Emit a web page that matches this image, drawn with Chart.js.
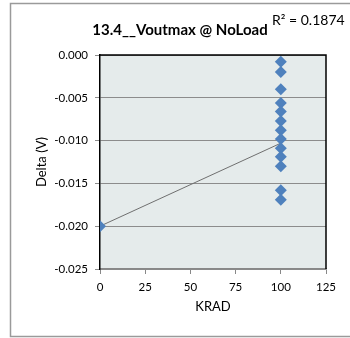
<!DOCTYPE html>
<html>
<head>
<meta charset="utf-8">
<script src="https://cdn.jsdelivr.net/npm/chart.js@4"></script>
<style>
  html, body { margin: 0; padding: 0; background: #fff; overflow: hidden; }
  #wrap { width: 350px; height: 338px; }
</style>
</head>
<body>
<div id="wrap"><canvas id="chart" width="350" height="338"></canvas></div>
<script>
// data
var chartTitle = '13.4__Voutmax @ NoLoad';
var rSquaredText = 'R\u00B2 = 0.1874';
var xTitle = 'KRAD';
var yTitle = 'Delta (V)';

var krad = [0, 100, 100, 100, 100, 100, 100, 100, 100, 100, 100, 100, 100, 100];
var delta = [-0.0200, -0.0008, -0.0020, -0.0040, -0.0056, -0.0066, -0.0077, -0.0088,
             -0.0098, -0.0109, -0.0119, -0.0130, -0.0158, -0.0169];

// linear trendline end points as drawn
var trendX = [0, 100];
var trendY = [-0.0200, -0.0103];

var xTicks = [0, 25, 50, 75, 100, 125];
var yTicks = [0, -0.005, -0.010, -0.015, -0.020, -0.025];

var fontFam = 'Lato, "Open Sans", sans-serif';

var points = krad.map(function(x, i) { return { x: x, y: delta[i] }; });
var trend = trendX.map(function(x, i) { return { x: x, y: trendY[i] }; });

var framePlugin = {
    id: 'frame',
    beforeDraw: function(chart) {
        var ctx = chart.ctx, a = chart.chartArea;
        ctx.save();
        // outer chart border (right side runs off the canvas)
        ctx.strokeStyle = '#9a9a9a';
        ctx.lineWidth = 1.5;
        ctx.beginPath();
        ctx.moveTo(360, 3.5);
        ctx.lineTo(10.5, 3.5);
        ctx.lineTo(10.5, 336.5);
        ctx.lineTo(360, 336.5);
        ctx.stroke();
        // plot background
        ctx.fillStyle = '#e5ebeb';
        ctx.fillRect(a.left, a.top, a.right - a.left, a.bottom - a.top);
        ctx.restore();
    },
    afterDraw: function(chart) {
        var ctx = chart.ctx, a = chart.chartArea;
        ctx.save();
        ctx.strokeStyle = '#000';
        ctx.lineWidth = 1.5;
        ctx.beginPath();
        ctx.moveTo(a.left, a.top);
        ctx.lineTo(a.right, a.top);
        ctx.lineTo(a.right, a.bottom);
        ctx.stroke();

        ctx.fillStyle = '#000';
        ctx.textBaseline = 'alphabetic';
        ctx.textAlign = 'center';
        ctx.font = 'bold 15px ' + fontFam;
        ctx.fillText(chartTitle, 180, 35);
        ctx.textAlign = 'left';
        ctx.font = '14px ' + fontFam;
        ctx.fillText(rSquaredText, 272, 25);
        ctx.restore();
    }
};

var ctx = document.getElementById('chart').getContext('2d');
var chart = new Chart(ctx, {
    type: 'scatter',
    data: {
        datasets: [
            {
                label: 'Delta',
                data: points,
                pointStyle: 'rectRot',
                pointRadius: 6,
                pointBackgroundColor: '#4f81bd',
                pointBorderColor: '#4f81bd',
                pointBorderWidth: 0,
                showLine: false,
                order: 1
            },
            {
                label: 'Trend',
                data: trend,
                showLine: true,
                pointRadius: 0,
                borderColor: '#6f6f6f',
                borderWidth: 1,
                fill: false,
                order: 2
            }
        ]
    },
    options: {
        responsive: false,
        animation: false,
        layout: { padding: { left: 10, right: 24, top: 55, bottom: 19 } },
        plugins: {
            legend: { display: false },
            title: { display: false },
            tooltip: { enabled: false }
        },
        scales: {
            x: {
                type: 'linear',
                min: 0,
                max: 125,
                afterBuildTicks: function(axis) {
                    axis.ticks = xTicks.map(function(v) { return { value: v }; });
                },
                afterFit: function(axis) { axis.height = 50; },
                grid: { drawOnChartArea: false, drawTicks: true, tickLength: 5, color: '#888' },
                border: { color: '#888', width: 1.5 },
                ticks: { color: '#000', padding: 6, font: { family: fontFam, size: 11.5 } },
                title: { display: true, text: xTitle, color: '#000', padding: { top: 4, bottom: 4 },
                         font: { family: fontFam, size: 13 } }
            },
            y: {
                type: 'linear',
                min: -0.025,
                max: 0,
                afterBuildTicks: function(axis) {
                    axis.ticks = yTicks.slice().reverse().map(function(v) { return { value: v }; });
                },
                afterFit: function(axis) { axis.width = 90; },
                grid: { drawOnChartArea: true, drawTicks: true, tickLength: 5, color: '#8c8c8c', lineWidth: 1 },
                border: { color: '#000', width: 1.5 },
                ticks: {
                    color: '#000',
                    padding: 7,
                    font: { family: fontFam, size: 11.5 },
                    callback: function(v) { return Number(v).toFixed(3); }
                },
                title: { display: true, text: yTitle, color: '#000', padding: { top: 24, bottom: 0 },
                         font: { family: fontFam, size: 13 } }
            }
        }
    },
    plugins: [framePlugin]
});
</script>
</body>
</html>
